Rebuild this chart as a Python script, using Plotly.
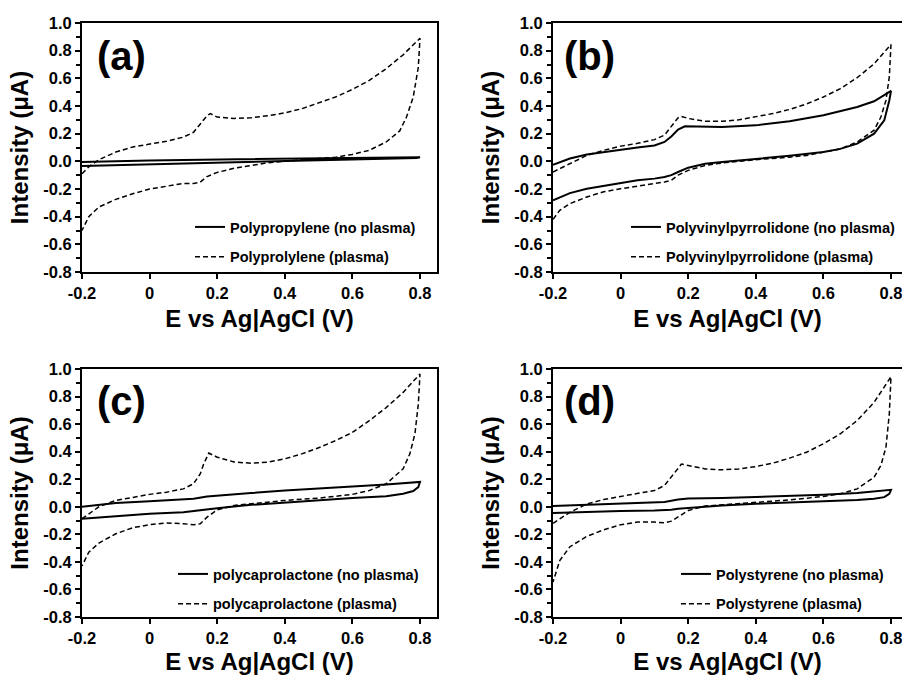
import plotly.graph_objects as go

# ---------------- DATA ----------------
x_tick_vals = [-0.2, 0, 0.2, 0.4, 0.6, 0.8]
x_tick_text = ["-0.2", "0", "0.2", "0.4", "0.6", "0.8"]
y_tick_vals = [1.0, 0.8, 0.6, 0.4, 0.2, 0.0, -0.2, -0.4, -0.6, -0.8]
y_tick_text = ["1.0", "0.8", "0.6", "0.4", "0.2", "0.0", "-0.2", "-0.4", "-0.6", "-0.8"]

panel_labels = ["(a)", "(b)", "(c)", "(d)"]
names_no_plasma = ["Polypropylene (no plasma)", "Polyvinylpyrrolidone (no plasma)",
                   "polycaprolactone (no plasma)", "Polystyrene (no plasma)"]
names_plasma = ["Polyprolylene (plasma)", "Polyvinylpyrrolidone (plasma)",
                "polycaprolactone (plasma)", "Polystyrene (plasma)"]

# (a) Polypropylene
a_np_E = [-0.2, -0.1, 0, 0.1, 0.2, 0.3, 0.4, 0.5, 0.6, 0.7, 0.8,
          0.79, 0.7, 0.6, 0.5, 0.4, 0.3, 0.2, 0.1, 0, -0.1, -0.2]
a_np_I = [-0.005, 0.002, 0.006, 0.01, 0.013, 0.016, 0.019, 0.022, 0.025, 0.027, 0.03,
          0.025, 0.02, 0.015, 0.01, 0.005, -0.001, -0.008, -0.014, -0.02, -0.026, -0.033]
a_p_E = [-0.2, -0.18, -0.15, -0.1, -0.05, 0, 0.05, 0.1, 0.13, 0.15, 0.17, 0.18, 0.2, 0.25, 0.3,
         0.35, 0.4, 0.45, 0.5, 0.55, 0.6, 0.65, 0.7, 0.75, 0.8,
         0.795, 0.78, 0.76, 0.74, 0.7, 0.65, 0.6, 0.55, 0.5, 0.4, 0.35, 0.3, 0.25, 0.2,
         0.17, 0.15, 0.13, 0.1, 0.05, 0, -0.05, -0.1, -0.15, -0.18, -0.2]
a_p_I = [-0.09, -0.04, 0.012, 0.067, 0.104, 0.123, 0.145, 0.175, 0.21, 0.27, 0.33, 0.345, 0.32, 0.31, 0.315,
         0.33, 0.35, 0.38, 0.42, 0.465, 0.52, 0.585, 0.67, 0.77, 0.89,
         0.68, 0.465, 0.32, 0.22, 0.14, 0.08, 0.05, 0.03, 0.02, 0.005, -0.01, -0.03, -0.05, -0.08,
         -0.11, -0.15, -0.16, -0.16, -0.18, -0.2, -0.235, -0.275, -0.33, -0.40, -0.5]

# (b) Polyvinylpyrrolidone
b_np_E = [-0.2, -0.15, -0.1, -0.05, 0, 0.05, 0.1, 0.13, 0.15, 0.17, 0.19, 0.2, 0.25, 0.3, 0.4,
          0.5, 0.6, 0.7, 0.75, 0.8,
          0.795, 0.78, 0.75, 0.7, 0.65, 0.6, 0.5, 0.4, 0.3, 0.25, 0.2, 0.17, 0.15, 0.13, 0.1,
          0.05, 0, -0.05, -0.1, -0.15, -0.2]
b_np_I = [-0.025, 0.02, 0.05, 0.068, 0.085, 0.1, 0.115, 0.14, 0.18, 0.23, 0.253, 0.253, 0.248, 0.248, 0.26,
          0.29, 0.333, 0.393, 0.434, 0.51,
          0.44, 0.296, 0.2, 0.128, 0.09, 0.067, 0.04, 0.02, -0.005, -0.017, -0.046, -0.077, -0.10, -0.113, -0.125,
          -0.137, -0.157, -0.173, -0.198, -0.23, -0.282]
b_p_E = [-0.2, -0.15, -0.1, -0.05, 0, 0.05, 0.1, 0.13, 0.15, 0.17, 0.18, 0.2, 0.25, 0.3, 0.35,
         0.4, 0.45, 0.5, 0.55, 0.6, 0.65, 0.7, 0.75, 0.8,
         0.795, 0.785, 0.77, 0.75, 0.7, 0.65, 0.6, 0.55, 0.5, 0.4, 0.3, 0.25, 0.2, 0.17, 0.15,
         0.13, 0.1, 0.05, 0, -0.05, -0.1, -0.15, -0.18, -0.2]
b_p_I = [-0.077, -0.017, 0.043, 0.08, 0.11, 0.13, 0.157, 0.19, 0.25, 0.315, 0.325, 0.31, 0.29, 0.29, 0.30,
         0.32, 0.345, 0.375, 0.415, 0.465, 0.525, 0.605, 0.705, 0.845,
         0.61, 0.44, 0.32, 0.225, 0.14, 0.09, 0.067, 0.043, 0.03, 0.012, -0.012, -0.03, -0.065, -0.10, -0.137,
         -0.15, -0.16, -0.178, -0.198, -0.22, -0.258, -0.306, -0.354, -0.42]

# (c) polycaprolactone
c_np_E = [-0.2, -0.1, 0, 0.1, 0.13, 0.17, 0.2, 0.3, 0.4, 0.5, 0.6, 0.7, 0.8,
          0.795, 0.78, 0.75, 0.7, 0.6, 0.5, 0.4, 0.3, 0.2, 0.17, 0.15, 0.1, 0, -0.1, -0.2]
c_np_I = [0.0, 0.027, 0.04, 0.053, 0.058, 0.075, 0.082, 0.1, 0.118, 0.13, 0.147, 0.162, 0.18,
          0.143, 0.114, 0.094, 0.077, 0.063, 0.046, 0.034, 0.014, -0.01, -0.02, -0.027, -0.039, -0.05, -0.068, -0.087]
c_p_E = [-0.2, -0.15, -0.1, -0.05, 0, 0.05, 0.1, 0.13, 0.15, 0.16, 0.175, 0.2, 0.25, 0.3, 0.35,
         0.4, 0.45, 0.5, 0.55, 0.6, 0.65, 0.7, 0.75, 0.8,
         0.795, 0.785, 0.77, 0.75, 0.7, 0.65, 0.6, 0.5, 0.4, 0.3, 0.25, 0.2, 0.17, 0.15,
         0.13, 0.1, 0.05, 0, -0.05, -0.1, -0.15, -0.18, -0.2]
c_p_I = [-0.087, 0.0, 0.046, 0.07, 0.09, 0.106, 0.13, 0.167, 0.24, 0.31, 0.39, 0.36, 0.325, 0.316, 0.324,
         0.348, 0.384, 0.428, 0.48, 0.54, 0.625, 0.72, 0.83, 0.964,
         0.746, 0.53, 0.384, 0.275, 0.167, 0.118, 0.09, 0.063, 0.046, 0.022, 0.01, -0.022, -0.075, -0.123,
         -0.13, -0.123, -0.118, -0.13, -0.152, -0.196, -0.263, -0.33, -0.43]

# (d) Polystyrene
d_np_E = [-0.2, -0.1, 0, 0.1, 0.13, 0.17, 0.2, 0.3, 0.4, 0.5, 0.6, 0.7, 0.8,
          0.795, 0.78, 0.75, 0.7, 0.6, 0.5, 0.4, 0.3, 0.2, 0.17, 0.15, 0.1, 0, -0.1, -0.2]
d_np_I = [0.005, 0.014, 0.022, 0.029, 0.034, 0.053, 0.06, 0.063, 0.07, 0.077, 0.087, 0.1, 0.123,
          0.094, 0.07, 0.058, 0.05, 0.041, 0.034, 0.022, 0.01, -0.007, -0.014, -0.022, -0.027, -0.031, -0.039, -0.046]
d_p_E = [-0.2, -0.15, -0.1, -0.05, 0, 0.05, 0.1, 0.13, 0.15, 0.17, 0.18, 0.2, 0.25, 0.3, 0.35,
         0.4, 0.45, 0.5, 0.55, 0.6, 0.65, 0.7, 0.75, 0.8,
         0.795, 0.785, 0.77, 0.75, 0.7, 0.65, 0.6, 0.5, 0.4, 0.3, 0.25, 0.2, 0.17, 0.15,
         0.13, 0.1, 0.05, 0, -0.05, -0.1, -0.15, -0.18, -0.2]
d_p_I = [-0.12, -0.04, 0.02, 0.053, 0.075, 0.094, 0.118, 0.155, 0.215, 0.283, 0.31, 0.3, 0.275, 0.268, 0.275,
         0.292, 0.316, 0.353, 0.396, 0.457, 0.53, 0.626, 0.758, 0.944,
         0.674, 0.432, 0.3, 0.215, 0.13, 0.094, 0.075, 0.05, 0.034, 0.014, 0.005, -0.027, -0.07, -0.104,
         -0.116, -0.111, -0.111, -0.13, -0.167, -0.215, -0.29, -0.39, -0.546]

series = [(a_np_E, a_np_I, a_p_E, a_p_I), (b_np_E, b_np_I, b_p_E, b_p_I),
          (c_np_E, c_np_I, c_p_E, c_p_I), (d_np_E, d_np_I, d_p_E, d_p_I)]

# ---------------- LAYOUT ----------------
W, H = 902, 675
FONT = "Liberation Sans, Arial, Helvetica, sans-serif"

# plot-area boxes in pixels: (left, right, top, bottom)
boxes = [(82, 437, 23, 272), (553, 902, 23, 272), (82, 437, 369, 617), (553, 902, 369, 617)]
px_per_unit = 338.0

fig = go.Figure()
legend_pos = [(190, 211), (626, 211), (173, 558), (676, 558)]
label_pos = [(95, 56), (562, 56), (95, 401), (562, 401)]

for i, (npE, npI, pE, pI) in enumerate(series):
    n = "" if i == 0 else str(i + 1)
    leg = "legend" + n
    fig.add_trace(go.Scatter(x=npE, y=npI, mode="lines", name=names_no_plasma[i],
                             line=dict(color="black", width=2),
                             xaxis="x" + n, yaxis="y" + n, legend=leg, legendgroup="np" + n))
    fig.add_trace(go.Scatter(x=pE, y=pI, mode="lines", name=names_plasma[i],
                             line=dict(color="black", width=1.5, dash="5px,3px"),
                             xaxis="x" + n, yaxis="y" + n, legend=leg, legendgroup="p" + n))

    l, r, t, b = boxes[i]
    xmax = -0.2 + (r - l) / px_per_unit
    mirror_y = r < W
    fig.layout["xaxis" + n] = dict(
        domain=[l / W, r / W], range=[-0.2, xmax], anchor="y" + n,
        tickmode="array", tickvals=x_tick_vals, ticktext=x_tick_text,
        ticks="outside", ticklen=5, tickwidth=1.5, tickcolor="black",
        ticklabeloverflow="allow",
        showline=True, linewidth=2, linecolor="black", mirror=True,
        showgrid=False, zeroline=False, automargin=False,
        tickfont=dict(size=16.5, family=FONT, color="black", weight="bold"),
        title=dict(text="E vs Ag|AgCl (V)", standoff=9,
                   font=dict(size=24, family=FONT, color="black", weight="bold")),
    )
    fig.layout["yaxis" + n] = dict(
        domain=[1 - b / H, 1 - t / H], range=[-0.8, 1.0], anchor="x" + n,
        tickmode="array", tickvals=y_tick_vals, ticktext=y_tick_text,
        ticks="outside", ticklen=5, tickwidth=1.5, tickcolor="black",
        ticklabeloverflow="allow",
        minor=dict(dtick=0.1, tick0=0, ticks="outside", ticklen=4, tickwidth=1.5,
                   tickcolor="black", showgrid=False),
        showline=True, linewidth=2, linecolor="black", mirror=mirror_y,
        showgrid=False, zeroline=False, automargin=False,
        tickfont=dict(size=16.5, family=FONT, color="black", weight="bold"),
        title=dict(text="Intensity (μA)", standoff=8,
                   font=dict(size=24, family=FONT, color="black", weight="bold")),
    )
    lx, ly = legend_pos[i]
    fig.layout[leg] = dict(
        x=lx / W, y=1 - ly / H, xanchor="left", yanchor="top",
        bgcolor="rgba(0,0,0,0)", borderwidth=0, traceorder="grouped",
        tracegroupgap=8, itemwidth=30,
        font=dict(size=14.5, family=FONT, color="black", weight="bold"),
    )
    ax, ay = label_pos[i]
    fig.add_annotation(text=panel_labels[i], xref="paper", yref="paper",
                       x=ax / W, y=1 - ay / H, xanchor="left", yanchor="middle",
                       showarrow=False,
                       font=dict(size=40, family=FONT, color="black", weight="bold"))

fig.update_layout(
    width=W, height=H, margin=dict(l=0, r=0, t=0, b=0, pad=0),
    paper_bgcolor="white", plot_bgcolor="white",
    font=dict(family=FONT, color="black", weight="bold"),
    showlegend=True,
)

fig.write_html("out.html", config={"displayModeBar": False},
               post_script="document.body.style.margin='0';document.body.style.overflow='hidden';")
